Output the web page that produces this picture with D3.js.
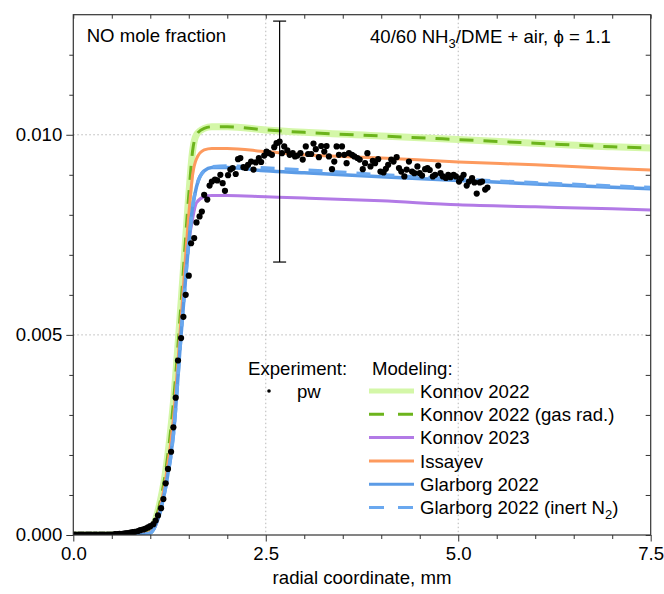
<!DOCTYPE html>
<html>
<head>
<meta charset="utf-8">
<script src="https://cdn.jsdelivr.net/npm/d3@7"></script>
<style>
body { margin: 0; background: #fff; }
svg { font-family: Arial, "Liberation Sans", sans-serif; }
</style>
</head>
<body>
<svg width="664" height="594"></svg>
<script>
const modelX = [0, 0.6, 0.8, 0.9, 1.0, 1.1, 1.2, 1.3, 1.4, 1.5, 1.55, 1.6, 1.7, 1.8, 2.0, 2.5, 3.0, 4.0, 5.0, 6.0, 7.0, 7.5]
const konnov22 = [0, 0, 0.00001, 0.00003, 0.0001, 0.0006, 0.0016, 0.0033, 0.0058, 0.0085, 0.0096, 0.0100, 0.01016, 0.0102, 0.0102, 0.01012, 0.01006, 0.00997, 0.00988, 0.00979, 0.0097, 0.00967]
const konnov22rad = [0, 0, 0.00001, 0.00003, 0.0001, 0.0006, 0.0016, 0.0033, 0.0058, 0.0085, 0.0096, 0.0100, 0.01016, 0.0102, 0.0102, 0.01012, 0.01006, 0.00997, 0.00988, 0.00979, 0.0097, 0.00967]
const konnov23 = [0, 0, 0.00001, 0.00002, 0.00006, 0.0004, 0.0013, 0.0027, 0.0051, 0.0073, 0.0079, 0.0083, 0.00845, 0.00848, 0.00848, 0.00845, 0.00842, 0.00835, 0.00825, 0.0082, 0.00815, 0.00812]
const issayev = [0, 0, 0.00001, 0.00002, 0.00008, 0.0005, 0.0014, 0.0029, 0.0054, 0.0080, 0.0090, 0.0094, 0.00962, 0.00966, 0.00966, 0.00958, 0.0095, 0.00942, 0.00932, 0.00925, 0.00916, 0.00912]
const glarborg22 = [0, 0, 0, 0.00001, 0.00005, 0.0004, 0.0012, 0.0025, 0.0050, 0.0073, 0.0082, 0.0087, 0.0091, 0.00918, 0.00918, 0.0091, 0.00905, 0.00895, 0.00886, 0.00877, 0.00869, 0.00865]
const glarborgN2 = [0, 0, 0, 0.00001, 0.00005, 0.0004, 0.0012, 0.0025, 0.0050, 0.0073, 0.0082, 0.0087, 0.0091, 0.0092, 0.00922, 0.00917, 0.00912, 0.009, 0.00889, 0.0088, 0.00872, 0.00868]

// experiment (pw): [radial coordinate mm, NO mole fraction]
const experiment = [
  [0.00, 0.00001], [0.03, 0.00001], [0.07, 0.00001], [0.10, 0.00001], [0.13, 0.00001], [0.17, 0.00001],
  [0.20, 0.00001], [0.23, 0.00001], [0.27, 0.00001], [0.30, 0.00001], [0.34, 0.00001], [0.37, 0.00001],
  [0.40, 0.00001], [0.44, 0.00001], [0.47, 0.00001], [0.50, 0.00001], [0.54, 0.00002], [0.57, 0.00002],
  [0.60, 0.00003], [0.64, 0.00003], [0.67, 0.00004], [0.70, 0.00005], [0.74, 0.00006], [0.77, 0.00007],
  [0.80, 0.00008], [0.84, 0.0001], [0.87, 0.00012], [0.91, 0.00014], [0.94, 0.00016], [0.97, 0.00019],
  [1.00, 0.00022], [1.04, 0.00027], [1.07, 0.00036], [1.10, 0.00049], [1.14, 0.00067], [1.17, 0.0009],
  [1.20, 0.00129], [1.23, 0.00165], [1.27, 0.00208], [1.30, 0.00269], [1.33, 0.00343], [1.36, 0.00436],
  [1.40, 0.00492], [1.43, 0.00545], [1.46, 0.0060], [1.50, 0.00648], [1.53, 0.00729], [1.57, 0.00742],
  [1.60, 0.00781], [1.64, 0.00796], [1.67, 0.00808], [1.70, 0.0085], [1.74, 0.00838], [1.77, 0.00873],
  [1.80, 0.00883], [1.84, 0.00888], [1.87, 0.00886], [1.91, 0.009], [1.94, 0.00879], [1.97, 0.0086],
  [2.01, 0.00899], [2.04, 0.00913], [2.07, 0.00917], [2.11, 0.00902], [2.14, 0.00939], [2.17, 0.00942],
  [2.21, 0.00919], [2.24, 0.00917], [2.27, 0.00925], [2.31, 0.00933], [2.34, 0.00913], [2.37, 0.00931],
  [2.41, 0.00942], [2.44, 0.00932], [2.48, 0.00948], [2.51, 0.00958], [2.54, 0.00954], [2.58, 0.0095],
  [2.61, 0.00969], [2.64, 0.00979], [2.68, 0.00983], [2.71, 0.00954], [2.74, 0.00971], [2.78, 0.00961],
  [2.81, 0.0095], [2.85, 0.00954], [2.88, 0.00946], [2.91, 0.00948], [2.95, 0.00954], [2.98, 0.00938],
  [3.02, 0.00971], [3.05, 0.00952], [3.09, 0.00952], [3.12, 0.00978], [3.15, 0.00964], [3.19, 0.00944],
  [3.22, 0.00972], [3.26, 0.00958], [3.29, 0.00972], [3.32, 0.00946], [3.36, 0.00914], [3.39, 0.00933],
  [3.42, 0.00971], [3.45, 0.0095], [3.49, 0.00971], [3.52, 0.0095], [3.55, 0.00929], [3.58, 0.00954],
  [3.62, 0.0095], [3.65, 0.00946], [3.69, 0.00942], [3.72, 0.00938], [3.76, 0.00914], [3.79, 0.00929],
  [3.82, 0.00954], [3.86, 0.00921], [3.89, 0.00935], [3.92, 0.00929], [3.96, 0.00939], [3.99, 0.00908],
  [4.03, 0.00906], [4.06, 0.00915], [4.09, 0.00925], [4.13, 0.00938], [4.16, 0.00933], [4.20, 0.00944],
  [4.23, 0.00917], [4.26, 0.00908], [4.30, 0.00896], [4.33, 0.00913], [4.36, 0.00933], [4.40, 0.00908],
  [4.43, 0.00904], [4.47, 0.00921], [4.50, 0.00904], [4.53, 0.00898], [4.57, 0.00914], [4.60, 0.00917],
  [4.63, 0.00912], [4.67, 0.00896], [4.70, 0.009], [4.74, 0.00923], [4.77, 0.00904], [4.80, 0.00896],
  [4.84, 0.00892], [4.87, 0.009], [4.90, 0.00894], [4.94, 0.009], [4.97, 0.00896], [5.01, 0.00883],
  [5.04, 0.00892], [5.07, 0.009], [5.11, 0.00873], [5.14, 0.00883], [5.18, 0.00892], [5.21, 0.00881],
  [5.24, 0.00853], [5.28, 0.00881], [5.31, 0.00883], [5.35, 0.00863], [5.38, 0.00868]
]
const errorBar = { x: 2.68, low: 0.00682, high: 0.01284 }

const xMajor = [0, 2.5, 5, 7.5]
const xMinor = [0.5, 1, 1.5, 2, 3, 3.5, 4, 4.5, 5.5, 6, 6.5, 7]
const yMajor = [0, 0.005, 0.010]
const yMinor = [0.001, 0.002, 0.003, 0.004, 0.006, 0.007, 0.008, 0.009, 0.011, 0.012]

const models = [
  { name: "Konnov 2022", values: konnov22, color: "#d4f7a8", width: 7, dash: null },
  { name: "Konnov 2022 (gas rad.)", values: konnov22rad, color: "#6cb41c", width: 3, dash: "14,10" },
  { name: "Konnov 2023", values: konnov23, color: "#b27ae6", width: 3, dash: null },
  { name: "Issayev", values: issayev, color: "#fd9a5e", width: 3, dash: null },
  { name: "Glarborg 2022", values: glarborg22, color: "#5b9be6", width: 3.5, dash: null },
  { name: "Glarborg 2022 (inert N2)", values: glarborgN2, color: "#6aa8ef", width: 3.5, dash: "14,10" }
]

const svg = d3.select("svg")
const plotLeft = 73.3, plotRight = 650.7, plotTop = 14.7, plotBottom = 535
const fontSize = 18.6

const x = d3.scaleLinear().domain([0, 7.5]).range([plotLeft, plotRight])
const y = d3.scaleLinear().domain([0, 0.013]).range([plotBottom, plotTop])

svg.append("defs").append("clipPath").attr("id", "clip")
  .append("rect").attr("x", plotLeft).attr("y", plotTop)
  .attr("width", plotRight - plotLeft).attr("height", plotBottom - plotTop)

// grid
const grid = svg.append("g").attr("stroke", "#b8b8b8").attr("stroke-width", 1).attr("stroke-dasharray", "1.5,2.5")
grid.selectAll(".gx").data([2.5, 5]).join("line")
  .attr("x1", d => x(d)).attr("x2", d => x(d)).attr("y1", plotTop).attr("y2", plotBottom)
grid.selectAll(".gy").data([0.005, 0.010]).join("line")
  .attr("x1", plotLeft).attr("x2", plotRight).attr("y1", d => y(d)).attr("y2", d => y(d))

// model curves
const plot = svg.append("g").attr("clip-path", "url(#clip)")
const line = d3.line()
  .x((d, i) => x(modelX[i]))
  .y(d => y(d))
  .curve(d3.curveMonotoneX)

models.forEach(m => {
  plot.append("path")
    .attr("d", line(m.values))
    .attr("fill", "none")
    .attr("stroke", m.color)
    .attr("stroke-width", m.width)
    .attr("stroke-dasharray", m.dash)
})

// experiment
plot.selectAll(".pt").data(experiment).join("circle")
  .attr("cx", d => x(d[0]))
  .attr("cy", d => y(d[1]))
  .attr("r", 3.1)
  .attr("fill", "#000")

const eb = svg.append("g").attr("stroke", "#000").attr("stroke-width", 1.2)
eb.append("line")
  .attr("x1", x(errorBar.x)).attr("x2", x(errorBar.x))
  .attr("y1", y(errorBar.low)).attr("y2", y(errorBar.high))
;[errorBar.low, errorBar.high].forEach(v => {
  eb.append("line")
    .attr("x1", x(errorBar.x) - 6.5).attr("x2", x(errorBar.x) + 6.5)
    .attr("y1", y(v)).attr("y2", y(v))
})

// axes
const axisColor = "#333"
function styleAxis(g) {
  g.select(".domain").remove()
  g.selectAll("line").attr("stroke", axisColor)
  g.selectAll("text").attr("fill", "#000").attr("font-size", fontSize).attr("font-family", "Arial, 'Liberation Sans', sans-serif")
}

svg.append("g").attr("transform", `translate(0,${plotBottom})`)
  .call(d3.axisBottom(x).tickValues(xMinor).tickSize(4).tickFormat(""))
  .call(styleAxis)
svg.append("g").attr("transform", `translate(0,${plotBottom})`)
  .call(d3.axisBottom(x).tickValues(xMajor).tickSize(6.5).tickPadding(5).tickFormat(d3.format(".1f")))
  .call(styleAxis)
svg.append("g").attr("transform", `translate(${plotLeft},0)`)
  .call(d3.axisLeft(y).tickValues(yMinor).tickSize(4).tickFormat(""))
  .call(styleAxis)
svg.append("g").attr("transform", `translate(${plotLeft},0)`)
  .call(d3.axisLeft(y).tickValues(yMajor).tickSize(7).tickPadding(4).tickFormat(d3.format(".3f")))
  .call(styleAxis)
svg.append("g").attr("transform", `translate(0,${plotTop})`)
  .call(d3.axisTop(x).tickValues(xMinor.concat(xMajor)).tickSize(-4).tickFormat(""))
  .call(styleAxis)
svg.append("g").attr("transform", `translate(${plotRight},0)`)
  .call(d3.axisRight(y).tickValues(yMinor.concat(yMajor)).tickSize(-5).tickFormat(""))
  .call(styleAxis)

svg.append("rect")
  .attr("x", plotLeft).attr("y", plotTop)
  .attr("width", plotRight - plotLeft).attr("height", plotBottom - plotTop)
  .attr("fill", "none").attr("stroke", axisColor).attr("stroke-width", 1.2)

svg.append("text")
  .attr("x", (plotLeft + plotRight) / 2).attr("y", 584)
  .attr("text-anchor", "middle").attr("font-size", fontSize)
  .text("radial coordinate, mm")

// annotations
svg.append("text").attr("x", 86.7).attr("y", 42).attr("font-size", fontSize).text("NO mole fraction")
const cond = svg.append("text").attr("x", 370).attr("y", 43).attr("font-size", fontSize)
cond.append("tspan").text("40/60 NH")
cond.append("tspan").attr("font-size", 13).attr("dy", 5).text("3")
cond.append("tspan").attr("dy", -5).text("/DME + air, \u03d5 = 1.1")

// legend
const legend = svg.append("g").attr("font-size", fontSize)
legend.append("text").attr("x", 248).attr("y", 375).text("Experiment:")
legend.append("text").attr("x", 372).attr("y", 375).text("Modeling:")
legend.append("circle").attr("cx", 269).attr("cy", 391).attr("r", 1.8).attr("fill", "#000")
legend.append("text").attr("x", 297).attr("y", 397.5).text("pw")

const rowY = d3.scaleLinear().domain([0, 1]).range([391, 414.3])
models.forEach((m, i) => {
  legend.append("line")
    .attr("x1", 369).attr("x2", 414)
    .attr("y1", rowY(i)).attr("y2", rowY(i))
    .attr("stroke", m.color)
    .attr("stroke-width", m.width === 7 ? 5 : 3)
    .attr("stroke-dasharray", m.dash ? "15,14" : null)
  const t = legend.append("text").attr("x", 420).attr("y", rowY(i) + 6.7)
  if (m.name.endsWith("N2)")) {
    t.append("tspan").text("Glarborg 2022 (inert N")
    t.append("tspan").attr("font-size", 13).attr("dy", 5).text("2")
    t.append("tspan").attr("dy", -5).text(")")
  } else {
    t.text(m.name)
  }
})
</script>
</body>
</html>
